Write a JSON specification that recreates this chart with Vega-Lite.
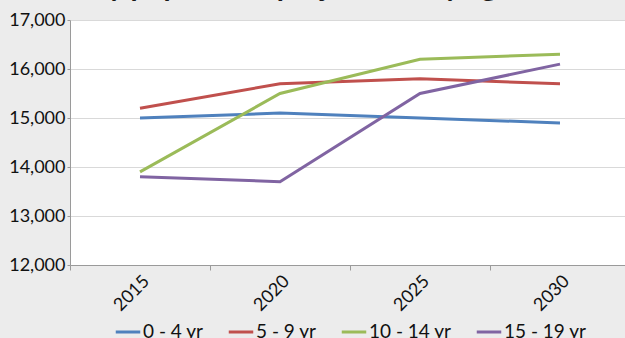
{
  "$schema": "https://vega.github.io/schema/vega-lite/v6.json",
  "autosize": "none",
  "width": 560,
  "height": 245,
  "padding": {"left": 70, "top": 20, "right": 0, "bottom": 73},
  "background": "#ececec",
  "title": {
    "text": "County population projections by age",
    "anchor": "start",
    "frame": "group",
    "dx": -40,
    "offset": -14,
    "baseline": "alphabetic",
    "font": "Lato",
    "fontSize": 29,
    "fontWeight": "bold",
    "color": "#1a1a1a"
  },
  "config": {
    "view": {"fill": "white", "stroke": null},
    "font": "Lato",
    "axis": {
      "labelFont": "Lato",
      "labelFontSize": 18,
      "labelColor": "#111111",
      "domainColor": "#9a9a9a",
      "tickColor": "#9a9a9a",
      "gridColor": "#d9d9d9",
      "titleFontSize": 0
    }
  },
  "data": {
    "values": [
      {"year": "2015", "group": "0 - 4 yr", "pop": 15000},
      {"year": "2020", "group": "0 - 4 yr", "pop": 15100},
      {"year": "2025", "group": "0 - 4 yr", "pop": 15000},
      {"year": "2030", "group": "0 - 4 yr", "pop": 14900},
      {"year": "2015", "group": "5 - 9 yr", "pop": 15200},
      {"year": "2020", "group": "5 - 9 yr", "pop": 15700},
      {"year": "2025", "group": "5 - 9 yr", "pop": 15800},
      {"year": "2030", "group": "5 - 9 yr", "pop": 15700},
      {"year": "2015", "group": "10 - 14 yr", "pop": 13900},
      {"year": "2020", "group": "10 - 14 yr", "pop": 15500},
      {"year": "2025", "group": "10 - 14 yr", "pop": 16200},
      {"year": "2030", "group": "10 - 14 yr", "pop": 16300},
      {"year": "2015", "group": "15 - 19 yr", "pop": 13800},
      {"year": "2020", "group": "15 - 19 yr", "pop": 13700},
      {"year": "2025", "group": "15 - 19 yr", "pop": 15500},
      {"year": "2030", "group": "15 - 19 yr", "pop": 16100}
    ]
  },
  "mark": {"type": "line", "strokeWidth": 3},
  "encoding": {
    "x": {
      "field": "year",
      "type": "ordinal",
      "title": null,
      "scale": {"type": "band", "paddingInner": 0, "paddingOuter": 0},
      "axis": {
        "labelAngle": -45,
        "labelAlign": "right",
        "labelBaseline": "top",
        "labelPadding": 2,
        "tickBand": "extent",
        "tickSize": 5,
        "grid": false
      }
    },
    "y": {
      "field": "pop",
      "type": "quantitative",
      "title": null,
      "scale": {"domain": [12000, 17000], "nice": false, "zero": false},
      "axis": {
        "values": [12000, 13000, 14000, 15000, 16000, 17000],
        "format": ",.0f",
        "tickSize": 3,
        "labelPadding": 2,
        "grid": true
      }
    },
    "color": {
      "field": "group",
      "type": "nominal",
      "sort": ["0 - 4 yr", "5 - 9 yr", "10 - 14 yr", "15 - 19 yr"],
      "scale": {
        "domain": ["0 - 4 yr", "5 - 9 yr", "10 - 14 yr", "15 - 19 yr"],
        "range": ["#4f81bd", "#c0504d", "#9bbb59", "#8064a2"]
      },
      "legend": {
        "title": null,
        "orient": "none",
        "direction": "horizontal",
        "legendX": 44,
        "legendY": 298,
        "symbolType": "stroke",
        "symbolStrokeWidth": 3,
        "symbolSize": 600,
        "symbolOffset": 0,
        "labelOffset": 1,
        "labelFont": "Lato",
        "labelFontSize": 19,
        "labelColor": "#111111",
        "columnPadding": 18
      }
    }
  }
}
